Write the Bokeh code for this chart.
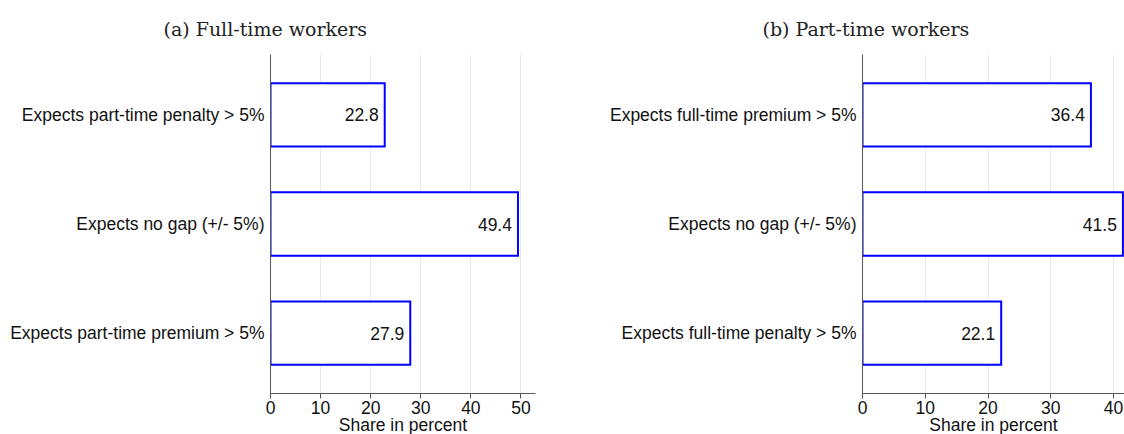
from bokeh.plotting import figure
from bokeh.layouts import row
from bokeh.models import FactorRange, Range1d, FixedTicker, ColumnDataSource
from bokeh.core.properties import value
from bokeh.embed import file_html
from bokeh.resources import INLINE

# ---- data ----
panel_titles = ["(a) Full-time workers", "(b) Part-time workers"]
ft_categories = ["Expects part-time penalty > 5%", "Expects no gap (+/- 5%)", "Expects part-time premium > 5%"]
ft_shares = [22.8, 49.4, 27.9]
pt_categories = ["Expects full-time premium > 5%", "Expects no gap (+/- 5%)", "Expects full-time penalty > 5%"]
pt_shares = [36.4, 41.5, 22.1]
ft_ticks = [0, 10, 20, 30, 40, 50]
pt_ticks = [0, 10, 20, 30, 40]
x_label = "Share in percent"

SANS = "Liberation Sans"
SERIF = "DejaVu Serif"
FS = "17.5px"
BLUE = "#0000ff"
AXIS = "#555555"
GRID = "#e3ebee"


def make_panel(title, cats, shares, ticks, x_end, border_left, frame_width, border_right, title_offset):
    factors = list(reversed(cats))
    src = ColumnDataSource(dict(cat=cats, share=shares, lbl=[f"{v:.1f}" for v in shares]))
    p = figure(
        y_range=FactorRange(factors=factors, range_padding=0.054, range_padding_units="absolute"),
        x_range=Range1d(0, x_end),
        frame_width=frame_width, frame_height=339,
        min_border_left=border_left, min_border_right=border_right,
        min_border_top=54, min_border_bottom=41,
        output_backend="svg", toolbar_location=None, title=title,
    )
    p.outline_line_color = None
    p.background_fill_color = "white"
    p.border_fill_color = "white"

    p.hbar(y="cat", left=0, right="share", height=0.58, source=src,
           fill_color="white", line_color=BLUE, line_width=2, line_join="miter")
    p.text(x="share", y="cat", text="lbl", source=src, x_offset=-6,
           text_align="right", text_baseline="middle",
           text_font=value(SANS), text_font_size=FS, text_color="#111111")

    # title
    p.title.text_font = SERIF
    p.title.text_font_size = "19px"
    p.title.text_font_style = "normal"
    p.title.text_color = "#222222"
    p.title.align = "left"
    p.title.offset = title_offset
    p.title.standoff = 30

    # x axis
    xa = p.xaxis[0]
    xa.ticker = FixedTicker(ticks=ticks)
    xa.major_label_text_font = SANS
    xa.major_label_text_font_size = FS
    xa.major_label_text_color = "#111111"
    xa.major_label_standoff = 2
    xa.major_tick_out = 5
    xa.major_tick_in = 0
    xa.minor_tick_line_color = None
    xa.axis_line_color = AXIS
    xa.major_tick_line_color = AXIS
    xa.axis_label = x_label
    xa.axis_label_text_font = SANS
    xa.axis_label_text_font_size = FS
    xa.axis_label_text_font_style = "normal"
    xa.axis_label_text_color = "#111111"
    xa.axis_label_standoff = -2

    # y axis
    ya = p.yaxis[0]
    ya.major_tick_line_color = None
    ya.major_tick_out = 0
    ya.major_tick_in = 0
    ya.minor_tick_line_color = None
    ya.axis_line_color = AXIS
    ya.major_label_standoff = 6
    ya.major_label_text_font = SANS
    ya.major_label_text_font_size = FS
    ya.major_label_text_color = "#111111"

    # grid
    p.ygrid.grid_line_color = None
    p.xgrid.ticker = FixedTicker(ticks=ticks)
    p.xgrid.grid_line_color = GRID
    p.xgrid.grid_line_width = 1
    return p


p1 = make_panel(panel_titles[0], ft_categories, ft_shares, ft_ticks, 52.9,
                border_left=270, frame_width=265, border_right=27, title_offset=-107)
p2 = make_panel(panel_titles[1], pt_categories, pt_shares, pt_ticks, 41.75,
                border_left=300, frame_width=262, border_right=0, title_offset=-100)

layout = row(p1, p2)
open("out.html", "w").write(file_html(layout, INLINE))
